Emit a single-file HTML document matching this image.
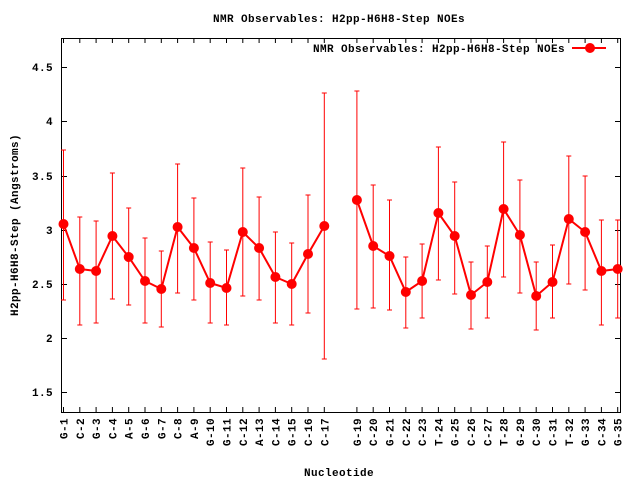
<!DOCTYPE html>
<html><head><meta charset="utf-8"><style>
html,body{margin:0;padding:0;background:#fff}
svg text{font-family:"Liberation Mono",monospace;font-weight:bold;font-size:11px;fill:#000;letter-spacing:0.4px}
</style></head><body>
<svg width="640" height="480" xmlns="http://www.w3.org/2000/svg">
<rect width="640" height="480" fill="#fff"/>
<text x="339" y="22" text-anchor="middle">NMR Observables: H2pp-H6H8-Step NOEs</text>
<text x="339" y="476" text-anchor="middle">Nucleotide</text>
<text transform="translate(18,225) rotate(-90)" text-anchor="middle">H2pp-H6H8-Step (Angstroms)</text>
<g stroke="#000" stroke-width="1" fill="none">
<rect x="61.5" y="38.5" width="559" height="374"/>
<path d="M61 392.5h6M621 392.5h-6M61 338.5h6M621 338.5h-6M61 284.5h6M621 284.5h-6M61 230.5h6M621 230.5h-6M61 176.5h6M621 176.5h-6M61 121.5h6M621 121.5h-6M61 67.5h6M621 67.5h-6"/>
<path d="M63.5 412v-5M79.8 412v-5M96.1 412v-5M112.4 412v-5M128.7 412v-5M145 412v-5M161.3 412v-5M177.6 412v-5M193.9 412v-5M210.2 412v-5M226.5 412v-5M242.8 412v-5M259.1 412v-5M275.4 412v-5M291.7 412v-5M308 412v-5M324.3 412v-5M356.9 412v-5M373.2 412v-5M389.5 412v-5M405.8 412v-5M422.1 412v-5M438.4 412v-5M454.7 412v-5M471 412v-5M487.3 412v-5M503.6 412v-5M519.9 412v-5M536.2 412v-5M552.5 412v-5M568.8 412v-5M585.1 412v-5M601.4 412v-5M617.7 412v-5
M63.5 38v5M79.8 38v5M96.1 38v5M112.4 38v5M128.7 38v5M145 38v5M161.3 38v5M177.6 38v5M193.9 38v5M210.2 38v5M226.5 38v5M242.8 38v5M259.1 38v5M275.4 38v5M291.7 38v5M308 38v5M324.3 38v5M356.9 38v5M373.2 38v5M389.5 38v5M405.8 38v5M422.1 38v5M438.4 38v5M454.7 38v5M471 38v5M487.3 38v5M503.6 38v5M519.9 38v5M536.2 38v5M552.5 38v5M568.8 38v5M585.1 38v5M601.4 38v5M617.7 38v5"/>
</g>
<g text-anchor="end">
<text x="53" y="396">1.5</text><text x="53" y="342">2</text><text x="53" y="288">2.5</text><text x="53" y="234">3</text><text x="53" y="180">3.5</text><text x="53" y="125">4</text><text x="53" y="71">4.5</text>
</g>
<g text-anchor="end">
<text transform="translate(67.5,418) rotate(-90)">G-1</text>
<text transform="translate(83.8,418) rotate(-90)">C-2</text>
<text transform="translate(100.1,418) rotate(-90)">G-3</text>
<text transform="translate(116.4,418) rotate(-90)">C-4</text>
<text transform="translate(132.7,418) rotate(-90)">A-5</text>
<text transform="translate(149,418) rotate(-90)">G-6</text>
<text transform="translate(165.3,418) rotate(-90)">G-7</text>
<text transform="translate(181.6,418) rotate(-90)">C-8</text>
<text transform="translate(197.9,418) rotate(-90)">A-9</text>
<text transform="translate(214.2,418) rotate(-90)">G-10</text>
<text transform="translate(230.5,418) rotate(-90)">G-11</text>
<text transform="translate(246.8,418) rotate(-90)">C-12</text>
<text transform="translate(263.1,418) rotate(-90)">A-13</text>
<text transform="translate(279.4,418) rotate(-90)">C-14</text>
<text transform="translate(295.7,418) rotate(-90)">G-15</text>
<text transform="translate(312,418) rotate(-90)">C-16</text>
<text transform="translate(328.3,418) rotate(-90)">C-17</text>
<text transform="translate(360.9,418) rotate(-90)">G-19</text>
<text transform="translate(377.2,418) rotate(-90)">C-20</text>
<text transform="translate(393.5,418) rotate(-90)">G-21</text>
<text transform="translate(409.8,418) rotate(-90)">C-22</text>
<text transform="translate(426.1,418) rotate(-90)">C-23</text>
<text transform="translate(442.4,418) rotate(-90)">T-24</text>
<text transform="translate(458.7,418) rotate(-90)">G-25</text>
<text transform="translate(475,418) rotate(-90)">C-26</text>
<text transform="translate(491.3,418) rotate(-90)">C-27</text>
<text transform="translate(507.6,418) rotate(-90)">T-28</text>
<text transform="translate(523.9,418) rotate(-90)">G-29</text>
<text transform="translate(540.2,418) rotate(-90)">C-30</text>
<text transform="translate(556.5,418) rotate(-90)">C-31</text>
<text transform="translate(572.8,418) rotate(-90)">T-32</text>
<text transform="translate(589.1,418) rotate(-90)">G-33</text>
<text transform="translate(605.4,418) rotate(-90)">C-34</text>
<text transform="translate(621.7,418) rotate(-90)">G-35</text>
</g>
<g stroke="#f00" stroke-width="1" fill="none">
<path d="M63.5 150V300M61 150h5M61 300h5
M79.8 217V325M77.3 217h5M77.3 325h5
M96.1 221V323M93.6 221h5M93.6 323h5
M112.4 173V299M109.9 173h5M109.9 299h5
M128.7 208V305M126.2 208h5M126.2 305h5
M145 238V323M142.5 238h5M142.5 323h5
M161.3 251V327M158.8 251h5M158.8 327h5
M177.6 164V293M175.1 164h5M175.1 293h5
M193.9 198V300M191.4 198h5M191.4 300h5
M210.2 242V323M207.7 242h5M207.7 323h5
M226.5 250V325M224 250h5M224 325h5
M242.8 168V296M240.3 168h5M240.3 296h5
M259.1 197V300M256.6 197h5M256.6 300h5
M275.4 232V323M272.9 232h5M272.9 323h5
M291.7 243V325M289.2 243h5M289.2 325h5
M308 195V313M305.5 195h5M305.5 313h5
M324.3 93V359M321.8 93h5M321.8 359h5
M356.9 91V309M354.4 91h5M354.4 309h5
M373.2 185V308M370.7 185h5M370.7 308h5
M389.5 200V310M387 200h5M387 310h5
M405.8 257V328M403.3 257h5M403.3 328h5
M422.1 244V318M419.6 244h5M419.6 318h5
M438.4 147V280M435.9 147h5M435.9 280h5
M454.7 182V294M452.2 182h5M452.2 294h5
M471 262V329M468.5 262h5M468.5 329h5
M487.3 246V318M484.8 246h5M484.8 318h5
M503.6 142V277M501.1 142h5M501.1 277h5
M519.9 180V293M517.4 180h5M517.4 293h5
M536.2 262V330M533.7 262h5M533.7 330h5
M552.5 245V318M550 245h5M550 318h5
M568.8 156V284M566.3 156h5M566.3 284h5
M585.1 176V290M582.6 176h5M582.6 290h5
M601.4 220V325M598.9 220h5M598.9 325h5
M617.7 220V318M615.2 220h5M615.2 318h5"/>
</g>
<g stroke="#f00" stroke-width="2" fill="none">
<polyline points="63.5,224 79.8,269 96.1,271 112.4,236 128.7,257 145,281 161.3,289 177.6,227 193.9,248 210.2,283 226.5,288 242.8,232 259.1,248 275.4,277 291.7,284 308,254 324.3,226"/>
<polyline points="356.9,200 373.2,246 389.5,256 405.8,292 422.1,281 438.4,213 454.7,236 471,295 487.3,282 503.6,209 519.9,235 536.2,296 552.5,282 568.8,219 585.1,232 601.4,271 617.7,269"/>
<path d="M572 48h34"/>
</g>
<g fill="#f00">
<circle cx="63.5" cy="224" r="5"/><circle cx="79.8" cy="269" r="5"/><circle cx="96.1" cy="271" r="5"/><circle cx="112.4" cy="236" r="5"/><circle cx="128.7" cy="257" r="5"/><circle cx="145" cy="281" r="5"/><circle cx="161.3" cy="289" r="5"/><circle cx="177.6" cy="227" r="5"/><circle cx="193.9" cy="248" r="5"/><circle cx="210.2" cy="283" r="5"/><circle cx="226.5" cy="288" r="5"/><circle cx="242.8" cy="232" r="5"/><circle cx="259.1" cy="248" r="5"/><circle cx="275.4" cy="277" r="5"/><circle cx="291.7" cy="284" r="5"/><circle cx="308" cy="254" r="5"/><circle cx="324.3" cy="226" r="5"/>
<circle cx="356.9" cy="200" r="5"/><circle cx="373.2" cy="246" r="5"/><circle cx="389.5" cy="256" r="5"/><circle cx="405.8" cy="292" r="5"/><circle cx="422.1" cy="281" r="5"/><circle cx="438.4" cy="213" r="5"/><circle cx="454.7" cy="236" r="5"/><circle cx="471" cy="295" r="5"/><circle cx="487.3" cy="282" r="5"/><circle cx="503.6" cy="209" r="5"/><circle cx="519.9" cy="235" r="5"/><circle cx="536.2" cy="296" r="5"/><circle cx="552.5" cy="282" r="5"/><circle cx="568.8" cy="219" r="5"/><circle cx="585.1" cy="232" r="5"/><circle cx="601.4" cy="271" r="5"/><circle cx="617.7" cy="269" r="5"/>
<circle cx="590" cy="48" r="5"/>
</g>
<text x="565" y="52" text-anchor="end">NMR Observables: H2pp-H6H8-Step NOEs</text>
</svg>
</body></html>
